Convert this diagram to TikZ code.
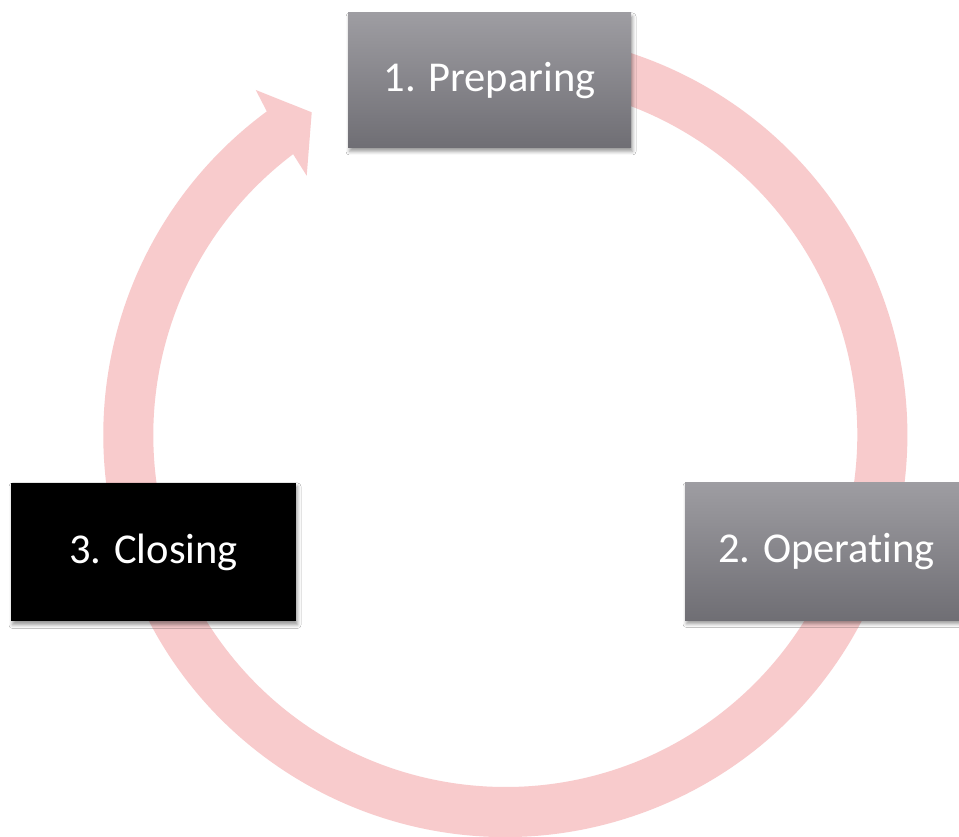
\documentclass[tikz,border=0pt]{standalone}
\usepackage{fontspec}
\setmainfont[Ligatures=NoCommon]{Carlito}
\usetikzlibrary{shadows.blur}
\definecolor{ringpink}{RGB}{248,203,204}
\definecolor{graytop}{RGB}{158,157,162}
\definecolor{graybot}{RGB}{111,110,116}
\tikzset{
  stagebox/.style={rectangle, inner sep=0pt, text=white,
    font=\fontsize{42.5}{50}\selectfont,
    blur shadow={shadow xshift=1.5pt, shadow yshift=-3.5pt, shadow blur radius=3.5pt, shadow opacity=40}},
  graybox/.style={stagebox, top color=graytop, bottom color=graybot, draw=none},
  blackbox/.style={stagebox, fill=black}
}
\begin{document}
\begin{tikzpicture}[x=1pt,y=1pt]
\useasboundingbox (0,0) rectangle (959,837);
\clip (0,0) rectangle (959,837);
\fill[white] (0,0) rectangle (959,837);
% ring with arrowhead
\begin{scope}[shift={(505.3,402)}]
\fill[ringpink] (110:402) arc[start angle=110, end angle=-233.61, radius=402]
  -- (125.88:425.8) -- (120.96:376.3) -- (127.45:326.6) -- (127.07:352)
  arc[start angle=-232.93, end angle=110, radius=352] -- cycle;
\end{scope}
% stage boxes
\node[graybox, minimum width=283pt, minimum height=135pt] (prep) at (489.5,756.5) {1. Preparing};
\node[graybox, minimum width=283pt, minimum height=138pt] (oper) at (826.5,285.5) {2. Operating};
\node[blackbox, minimum width=285pt, minimum height=138.5pt] (clos) at (153.5,284.75) {3. Closing};
\end{tikzpicture}
\end{document}
